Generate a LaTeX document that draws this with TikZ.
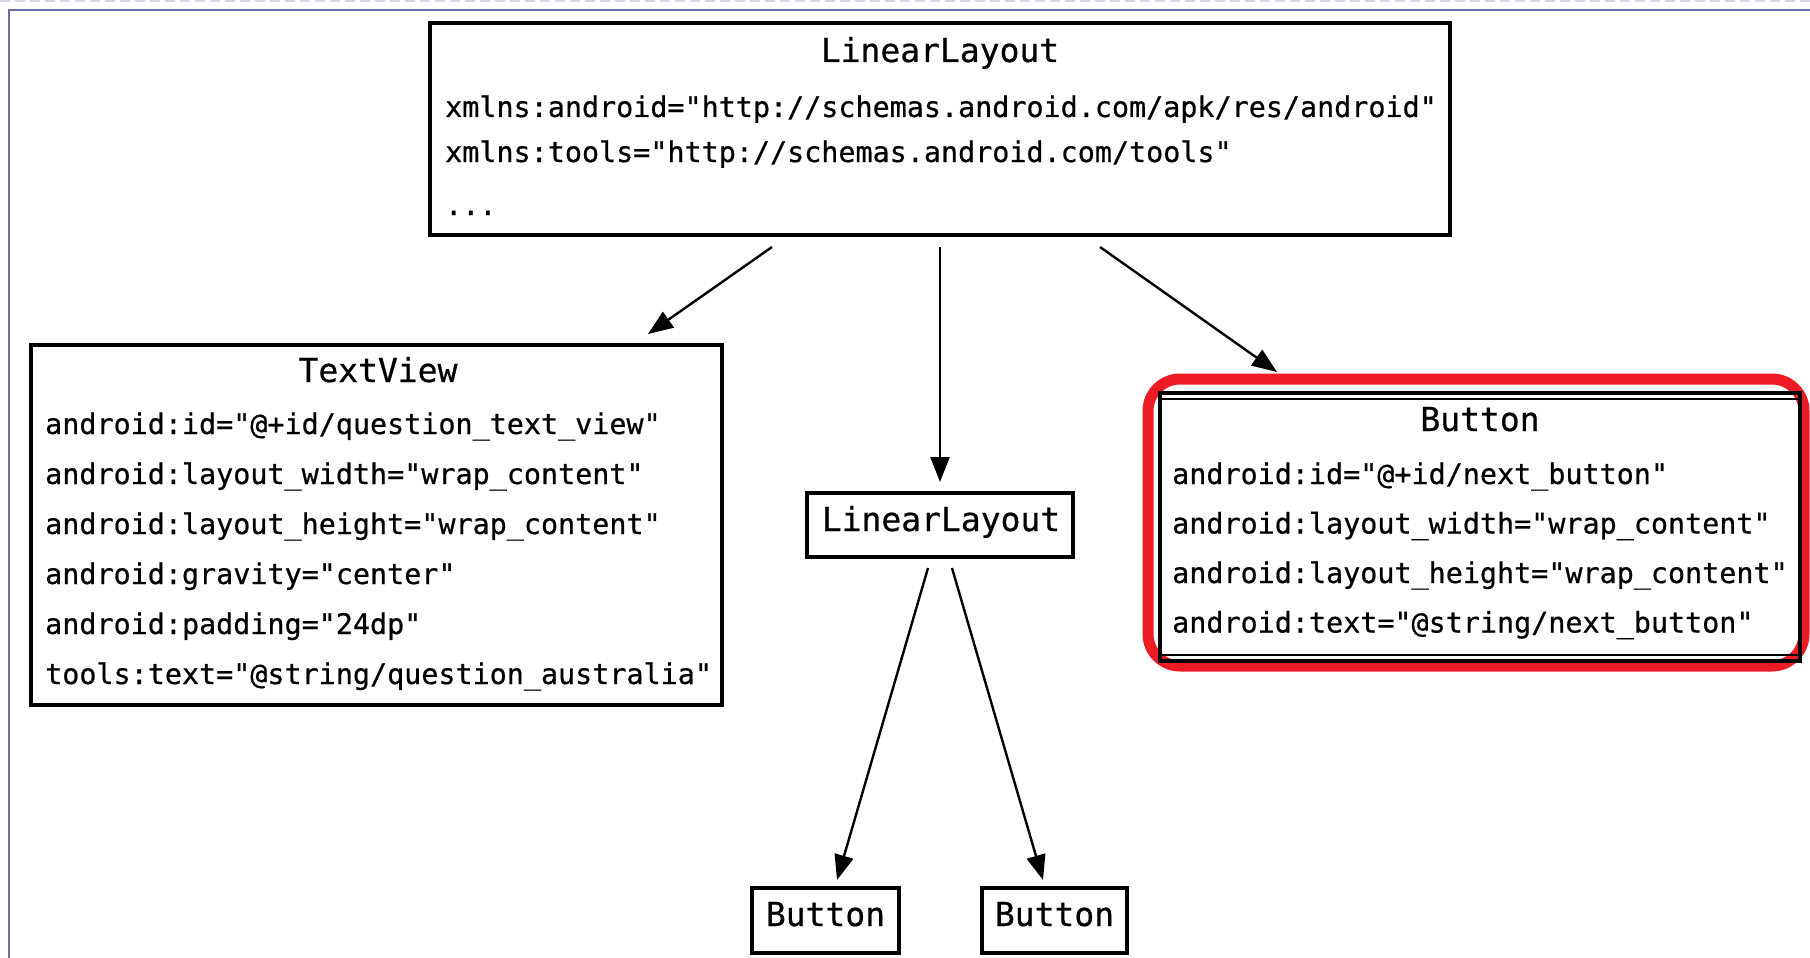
\documentclass[tikz,border=0pt]{standalone}
\usepackage{fontspec}
\newfontfamily\mono[FakeBold=0.6]{DejaVu Sans Mono}
\usetikzlibrary{arrows.meta,calc}
\definecolor{hl}{RGB}{237,28,36}
\definecolor{framec}{RGB}{108,108,170}
\definecolor{faint}{RGB}{212,216,232}
\tikzset{
  box/.style={draw=black, line width=4pt, inner sep=0pt, outer sep=0pt},
  ttl/.style={font=\mono\fontsize{33}{36}\selectfont, anchor=base, inner sep=0pt},
  body/.style={font=\mono\fontsize{28.4}{30}\selectfont, anchor=base west, inner sep=0pt},
  arr/.style={-{Triangle[length=25pt,width=19pt]}, line width=2.4pt},
  redbox/.style={draw=hl, line width=11pt, rounded corners=32pt, inner sep=0pt, outer sep=0pt},
}
\begin{document}
\begin{tikzpicture}[x=1pt,y=-1pt]
\useasboundingbox (0,0) rectangle (1810,958);
\fill[white] (0,0) rectangle (1810,958);
% page frame
\draw[faint, line width=2pt, dash pattern=on 10pt off 5pt] (0,1) -- (1810,1);
\draw[framec, line width=1.6pt] (9,958) -- (9,10) -- (1810,10);

% boxes
\node[box, minimum width=1020pt, minimum height=212pt] (top) at (940,129) {};
\node[box, minimum width=691pt, minimum height=360pt] (tv) at (376.5,525) {};
\node[box, minimum width=266pt, minimum height=64pt] (mid) at (940,525) {};
\node[box, minimum width=147pt, minimum height=65pt] (b1) at (825.5,920.5) {};
\node[box, minimum width=145pt, minimum height=65pt] (b2) at (1054.5,920.5) {};
\node[redbox, minimum width=656pt, minimum height=287pt] (red) at (1476,522.5) {};
\node[box, line width=3.5pt, minimum width=640pt, minimum height=268pt] (btn) at (1480,527) {};
\draw[line width=1.8pt] ($(btn.north west)+(0,6)$) -- ($(btn.north east)+(0,6)$);
\draw[line width=1.8pt] ($(btn.south west)+(0,-6)$) -- ($(btn.south east)+(0,-6)$);

% top box text
\node[ttl] (toptitle) at (940,62) {LinearLayout};
\node[body] (top1) at (445,117) {xmlns:android="http://schemas.android.com/apk/res/android"};
\node[body] (top2) at (445,162) {xmlns:tools="http://schemas.android.com/tools"};
\node[body] (top3) at (445,215) {...};

% TextView text
\node[ttl] (tvtitle) at (378,382) {TextView};
\node[body] (tv1) at (45,434) {android:id="@+id/question\_text\_view"};
\node[body] (tv2) at (45,484) {android:layout\_width="wrap\_content"};
\node[body] (tv3) at (45,534) {android:layout\_height="wrap\_content"};
\node[body] (tv4) at (45,584) {android:gravity="center"};
\node[body] (tv5) at (45,634) {android:padding="24dp"};
\node[body] (tv6) at (45,684) {tools:text="@string/question\_australia"};

% middle / buttons
\node[ttl] (midtitle) at (941,531) {LinearLayout};
\node[ttl] (b1title) at (825.5,926) {Button};
\node[ttl] (b2title) at (1054.5,926) {Button};

% Button text
\node[ttl] (btntitle) at (1480,431) {Button};
\node[body] (bt1) at (1172,484) {android:id="@+id/next\_button"};
\node[body] (bt2) at (1172,533.5) {android:layout\_width="wrap\_content"};
\node[body] (bt3) at (1172,583) {android:layout\_height="wrap\_content"};
\node[body] (bt4) at (1172,632.5) {android:text="@string/next\_button"};

% connectors
\draw[arr] ($(top.south west)+(342,12)$) -- ($(tv.north west)+(617,-11)$);
\draw[arr] ($(top.south)+(0,12)$) -- ($(mid.north)+(0,-11)$);
\draw[arr] ($(top.south west)+(670,12)$) -- ($(btn.north west)+(117,-21)$);
\draw[arr] ($(mid.south)+(-12,11)$) -- ($(b1.north)+(11.5,-8)$);
\draw[arr] ($(mid.south)+(12,11)$) -- ($(b2.north)+(-11.5,-8)$);
\end{tikzpicture}
\end{document}
